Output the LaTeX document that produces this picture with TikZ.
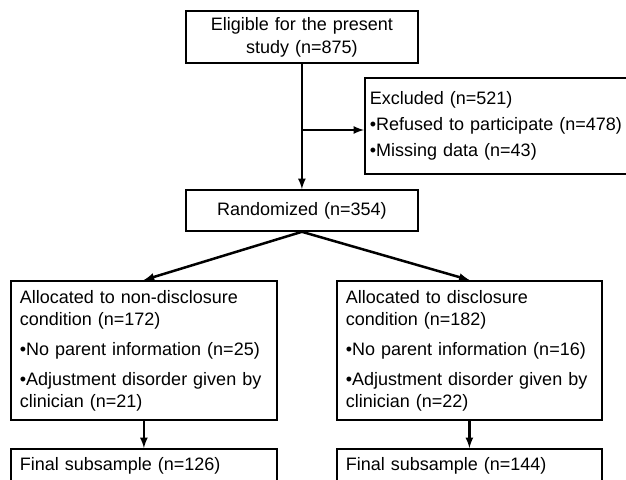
\documentclass[tikz,border=0pt]{standalone}
\usepackage{fontspec}
\setmainfont{Liberation Sans}
\usetikzlibrary{arrows}

\begin{document}
\begin{tikzpicture}[x=1pt, y=1pt,
	box/.style={draw, line width=1.8pt, anchor=north west, inner sep=0pt, font=\fontsize{18}{22}\selectfont},
	flow/.style={-latex, line width=2.5pt}]
	\useasboundingbox (0,0) rectangle (626,479);
	\clip (0,0) rectangle (626,479);

	\node[box, minimum width=232, minimum height=52, text width=216, align=center, font=\fontsize{18}{23}\selectfont]
		(elig)		at	(185,469)	{Eligible for the present\\study (n=875)};
	\node[box, minimum width=300, minimum height=96, text width=290, align=left]
		(excl)		at	(364,402)	{Excluded (n=521)\\[4pt]•Refused to participate (n=478)\\[4pt]•Missing data (n=43)};
	\node[box, minimum width=232, minimum height=41, text width=216, align=center]
		(rand)		at	(185,290)	{Randomized (n=354)};
	\node[box, minimum width=266, minimum height=139, text width=248, align=left]
		(nondis)	at	(10,199)	{Allocated to non-disclosure\\condition (n=172)\\[8pt]•No parent information (n=25)\\[8pt]•Adjustment disorder given by\\clinician (n=21)};
	\node[box, minimum width=265, minimum height=139, text width=247, align=left]
		(dis)		at	(336,199)	{Allocated to disclosure\\condition (n=182)\\[8pt]•No parent information (n=16)\\[8pt]•Adjustment disorder given by\\clinician (n=22)};
	\node[box, minimum width=266, minimum height=34, text width=248, align=left]
		(finA)		at	(10,31)		{Final subsample (n=126)};
	\node[box, minimum width=265, minimum height=34, text width=247, align=left]
		(finB)		at	(336,31)	{Final subsample (n=144)};
	\coordinate							(split)		at	(301,349);

	\draw[flow] (elig.south) -- (rand.north);
	\draw[flow] (split) -- (split -| excl.west);
	\draw[flow] (rand.south) -- (nondis.north);
	\draw[flow] (rand.south) -- (dis.north);
	\draw[flow] (nondis.south) -- (finA.north);
	\draw[flow] (dis.south) -- (finB.north);

\end{tikzpicture}
\end{document}
